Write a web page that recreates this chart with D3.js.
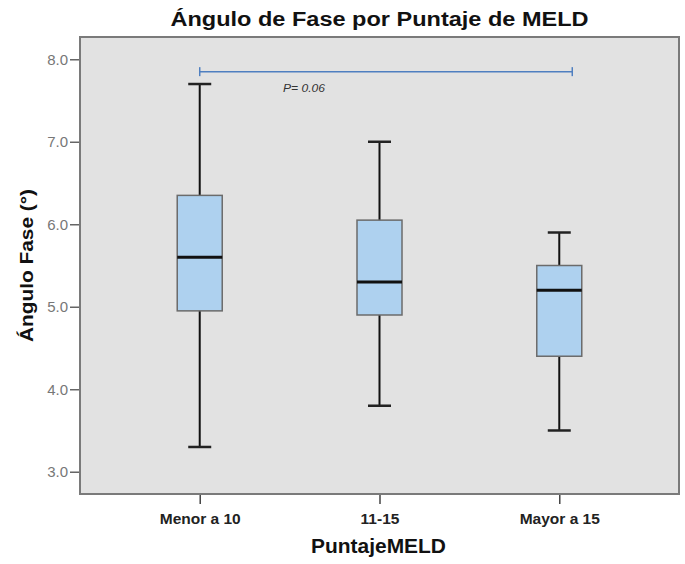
<!DOCTYPE html>
<html lang="es">
<head>
    <meta charset="UTF-8">
    <title>Angulo de Fase por MELD</title>
    <script src="https://d3js.org/d3.v7.min.js"></script>
    <style>
        body {
            margin: 0;
            background: #fff;
        }
        text {
            font-family: "Liberation Sans", Arial, sans-serif;
        }
    </style>
</head>
<body>
    <div id="chart"></div>
    <script>
        // datos
        const categories = ["Menor a 10", "11-15", "Mayor a 15"];
        const whiskerLow = [3.3, 3.8, 3.5];
        const q1 = [4.95, 4.9, 4.4];
        const medians = [5.6, 5.3, 5.2];
        const q3 = [6.35, 6.05, 5.5];
        const whiskerHigh = [7.7, 7.0, 5.9];
        const yTicks = [3, 4, 5, 6, 7, 8];
        const pLabel = "P= 0.06";
        const pValue = 7.85;

        const width = 685;
        const height = 564;
        const frame = { left: 80, right: 679, top: 37, bottom: 494 };
        const boxWidth = 45;
        const capWidth = 23;

        const boxes = categories.map((c, i) => ({
            cat: c,
            lo: whiskerLow[i],
            q1: q1[i],
            med: medians[i],
            q3: q3[i],
            hi: whiskerHigh[i]
        }));

        const svg = d3.select("#chart")
            .append("svg")
            .attr("width", width)
            .attr("height", height);

        const x = d3.scalePoint()
            .domain(categories)
            .range([frame.left, frame.right])
            .padding(0.666);

        const y = d3.scaleLinear()
            .domain([2.73, 8.27])
            .range([frame.bottom, frame.top]);

        // fondo del area de trazado
        svg.append("rect")
            .attr("x", frame.left)
            .attr("y", frame.top)
            .attr("width", frame.right - frame.left)
            .attr("height", frame.bottom - frame.top)
            .attr("fill", "#e2e2e2");

        // ejes
        const yAxis = svg.append("g")
            .attr("transform", `translate(${frame.left},0)`)
            .call(d3.axisLeft(y).tickValues(yTicks).tickFormat(d3.format(".1f")).tickSize(10).tickPadding(2));
        yAxis.select(".domain").remove();
        yAxis.selectAll("line").attr("stroke", "#666").attr("stroke-width", 1.5);
        yAxis.selectAll("text")
            .attr("fill", "#777")
            .style("font-size", "15px");

        const xAxis = svg.append("g")
            .attr("transform", `translate(0,${frame.bottom})`)
            .call(d3.axisBottom(x).tickSize(10).tickPadding(8));
        xAxis.select(".domain").remove();
        xAxis.selectAll("line").attr("stroke", "#444").attr("stroke-width", 1.5);
        xAxis.selectAll("text")
            .attr("fill", "#222")
            .attr("dy", "0.75em")
            .style("font-size", "15.5px")
            .style("font-weight", "bold");

        // cajas
        const g = svg.append("g");
        const box = g.selectAll(".box")
            .data(boxes)
            .enter()
            .append("g")
            .attr("class", "box");

        box.append("line")
            .attr("x1", d => x(d.cat))
            .attr("x2", d => x(d.cat))
            .attr("y1", d => y(d.hi))
            .attr("y2", d => y(d.lo))
            .attr("stroke", "#111")
            .attr("stroke-width", 2);

        box.selectAll(".cap")
            .data(d => [{ cat: d.cat, v: d.hi }, { cat: d.cat, v: d.lo }])
            .enter()
            .append("line")
            .attr("class", "cap")
            .attr("x1", d => x(d.cat) - capWidth / 2)
            .attr("x2", d => x(d.cat) + capWidth / 2)
            .attr("y1", d => y(d.v))
            .attr("y2", d => y(d.v))
            .attr("stroke", "#222")
            .attr("stroke-width", 2.5);

        box.append("rect")
            .attr("x", d => x(d.cat) - boxWidth / 2)
            .attr("y", d => y(d.q3))
            .attr("width", boxWidth)
            .attr("height", d => y(d.q1) - y(d.q3))
            .attr("fill", "#aed1ef")
            .attr("stroke", "#6b6b6b")
            .attr("stroke-width", 1.5);

        box.append("line")
            .attr("x1", d => x(d.cat) - boxWidth / 2)
            .attr("x2", d => x(d.cat) + boxWidth / 2)
            .attr("y1", d => y(d.med))
            .attr("y2", d => y(d.med))
            .attr("stroke", "#111")
            .attr("stroke-width", 3);

        // marco
        svg.append("rect")
            .attr("x", frame.left)
            .attr("y", frame.top)
            .attr("width", frame.right - frame.left)
            .attr("height", frame.bottom - frame.top)
            .attr("fill", "none")
            .attr("stroke", "#7a7a7a")
            .attr("stroke-width", 2);

        // linea de comparacion
        const bx1 = x(categories[0]);
        const bx2 = x(categories[2]) + 13;
        const by = y(pValue);
        const bracket = svg.append("g")
            .attr("stroke", "#4f7fc0")
            .attr("stroke-width", 1.5);
        bracket.append("line").attr("x1", bx1).attr("x2", bx2).attr("y1", by).attr("y2", by);
        bracket.append("line").attr("x1", bx1).attr("x2", bx1).attr("y1", by - 4.5).attr("y2", by + 4.5);
        bracket.append("line").attr("x1", bx2).attr("x2", bx2).attr("y1", by - 4.5).attr("y2", by + 4.5);

        svg.append("text")
            .attr("x", 283)
            .attr("y", by + 20.5)
            .attr("textLength", 42)
            .attr("lengthAdjust", "spacingAndGlyphs")
            .style("font-size", "10.5px")
            .style("font-style", "italic")
            .attr("fill", "#333")
            .text(pLabel);

        // titulos
        svg.append("text")
            .attr("x", (frame.left + frame.right) / 2)
            .attr("y", 26)
            .attr("text-anchor", "middle")
            .attr("textLength", 418)
            .attr("lengthAdjust", "spacingAndGlyphs")
            .style("font-size", "19.5px")
            .style("font-weight", "bold")
            .attr("fill", "#111")
            .text("Ángulo de Fase por Puntaje de MELD");

        svg.append("text")
            .attr("transform", `translate(33,${(frame.top + frame.bottom) / 2}) rotate(-90)`)
            .attr("text-anchor", "middle")
            .attr("textLength", 153)
            .attr("lengthAdjust", "spacingAndGlyphs")
            .style("font-size", "19px")
            .style("font-weight", "bold")
            .attr("fill", "#111")
            .text("Ángulo Fase (°)");

        svg.append("text")
            .attr("x", 378.5)
            .attr("y", 553)
            .attr("text-anchor", "middle")
            .attr("textLength", 135)
            .attr("lengthAdjust", "spacingAndGlyphs")
            .style("font-size", "20px")
            .style("font-weight", "bold")
            .attr("fill", "#111")
            .text("PuntajeMELD");
    </script>
</body>
</html>
